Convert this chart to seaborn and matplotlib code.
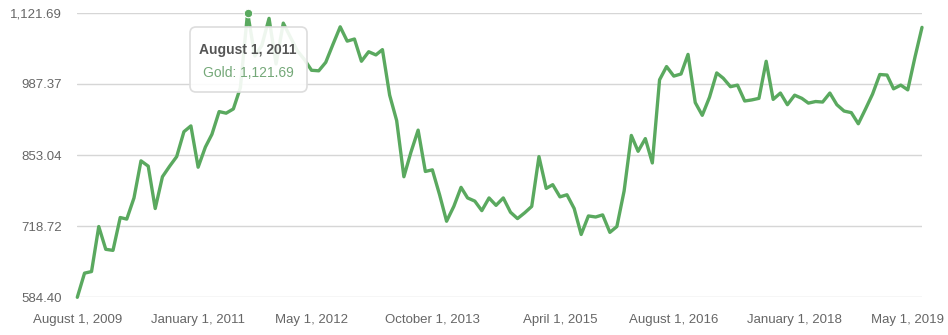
import pandas as pd
import matplotlib.pyplot as plt
import seaborn as sns
from matplotlib.patches import FancyBboxPatch
from matplotlib.transforms import IdentityTransform

# monthly gold values, August 2009 .. July 2019
start_month = "2009-08-01"
gold = [
    584.40, 630, 633, 718, 675, 673, 735, 732, 772, 842,
    832, 752, 812, 832, 850, 897, 908, 830, 868, 892,
    935, 932, 940, 980, 1121.69, 1040, 1060, 1111, 1025, 1102,
    1075, 1050, 1033, 1013, 1012, 1028, 1062, 1095, 1068, 1072,
    1030, 1048, 1042, 1052, 966, 918, 812, 858, 900, 822,
    825, 778, 728, 756, 792, 772, 766, 748, 772, 758,
    772, 745, 733, 744, 756, 850, 790, 797, 774, 778,
    752, 703, 738, 736, 740, 707, 718, 785, 890, 860,
    884, 838, 995, 1020, 1002, 1006, 1043, 952, 928, 962,
    1008, 998, 982, 985, 955, 957, 960, 1030, 958, 970,
    948, 966, 960, 951, 954, 953, 970, 948, 936, 933,
    912, 940, 968, 1005, 1004, 978, 985, 976, 1038, 1094,
]
dates = pd.date_range(start=start_month, periods=len(gold), freq="MS")

y_ticks = [584.40, 718.72, 853.04, 987.37, 1121.69]
y_labels = ["584.40", "718.72", "853.04", "987.37", "1,121.69"]
x_tick_dates = ["2009-08-01", "2011-01-01", "2012-05-01", "2013-10-01",
                "2015-04-01", "2016-08-01", "2018-01-01", "2019-05-01"]
x_labels = ["August 1, 2009", "January 1, 2011", "May 1, 2012", "October 1, 2013",
            "April 1, 2015", "August 1, 2016", "January 1, 2018", "May 1, 2019"]
hover_date = "2011-08-01"
hover_title = "August 1, 2011"
hover_text = "Gold: 1,121.69"

green = "#5aa95f"

sns.set_theme(style="white")
plt.rcParams["font.family"] = ["Liberation Sans", "DejaVu Sans"]

df = pd.DataFrame({"date": dates, "gold": gold})

fig = plt.figure(figsize=(9.48, 3.35), dpi=100)
ax = fig.add_axes([77.3 / 948, 37.7 / 335, (922 - 77.3) / 948, (297.3 - 12.7) / 335])

for v in y_ticks:
    ax.axhline(v, color="#d6d6d6", linewidth=1.0, zorder=0)

sns.lineplot(data=df, x="date", y="gold", color=green, linewidth=2.4, ax=ax)
for line in ax.lines[-1:]:
    line.set_clip_on(False)
    line.set_solid_joinstyle("round")
    line.set_solid_capstyle("round")

# hovered point
hv = df[df["date"] == pd.Timestamp(hover_date)]
ax.scatter(hv["date"], hv["gold"], s=38, color=green, edgecolor="white",
           linewidth=0.8, zorder=5, clip_on=False)

ax.set_xlim(dates[0], dates[-1])
ax.set_ylim(y_ticks[0], y_ticks[-1])
ax.set_yticks(y_ticks)
ax.set_yticklabels(y_labels)
ax.set_xticks(pd.to_datetime(x_tick_dates))
ax.set_xticklabels(x_labels)
ax.tick_params(axis="both", length=0, labelsize=9.5, colors="#666666")
ax.tick_params(axis="y", pad=11)
ax.tick_params(axis="x", pad=12)
ax.set_xlabel("")
ax.set_ylabel("")
for s in ax.spines.values():
    s.set_visible(False)

# tooltip box (pixel coordinates)
box = FancyBboxPatch((190, 335 - 92), 117, 65,
                     boxstyle="round,pad=0,rounding_size=6",
                     transform=IdentityTransform(), facecolor=(1, 1, 1, 0.9),
                     edgecolor="#dddddd", linewidth=1.2)
fig.patches.append(box)
fig.text(248 / 948, 1 - 50 / 335, hover_title, ha="center", va="center",
         fontsize=10, fontweight="bold", color="#555555")
fig.text(248 / 948, 1 - 73 / 335, hover_text, ha="center", va="center",
         fontsize=10, color="#74a878")

fig.savefig("out.png", dpi=100)
